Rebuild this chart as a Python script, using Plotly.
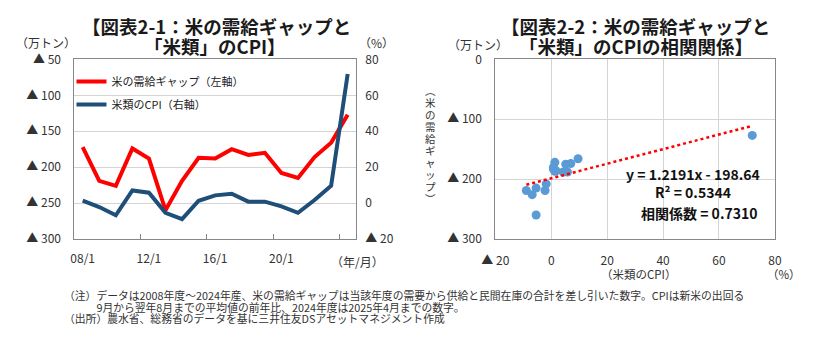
import plotly.graph_objects as go

# --- data -------------------------------------------------------------
years = list(range(2008, 2025))
supply_gap = [-172, -219, -226, -174, -188, -260, -219, -187, -188,
              -175, -183, -180, -208, -215, -186, -166, -127]          # 万トン
rice_cpi = [1.3, -2.2, -6.8, 7.0, 5.8, -5.4, -8.9, 1.3, 4.3,
            5.2, 0.8, 0.8, -1.8, -5.4, 1.7, 9.6, 71.9]                 # %

year_tick_vals = [2008, 2012, 2016, 2020]
year_tick_text = ["08/1", "12/1", "16/1", "20/1"]
year_minor_ticks = [2011.5, 2015.5, 2019.5, 2023.5]

gap_tick_vals = [-300, -250, -200, -150, -100, -50]
gap_tick_text = ["▲ 300", "▲ 250", "▲ 200", "▲ 150", "▲ 100", "▲ 50"]
cpi_tick_vals = [-20, 0, 20, 40, 60, 80]
cpi_tick_text = ["▲ 20", "0", "20", "40", "60", "80"]
scatter_gap_vals = [-300, -200, -100, 0]
scatter_gap_text = ["▲ 300", "▲ 200", "▲ 100", "0"]

slope = 1.2191
intercept = -198.64
r_squared = 0.5344
correlation = 0.7310

note_lines = [
    "（注）データは2008年度～2024年産、米の需給ギャップは当該年度の需要から供給と民間在庫の合計を差し引いた数字。CPIは新米の出回る",
    "　　　9月から翌年8月までの平均値の前年比、2024年度は2025年4月までの数字。",
    "（出所）農水省、総務省のデータを基に三井住友DSアセットマネジメント作成",
]

# --- styling ----------------------------------------------------------
W, H = 816, 341
FONT = "Noto Sans CJK JP"
TXT = "#333333"
AXIS_LINE = "#878787"
GRID = "#d4d4d4"
RED = "#ff0000"
NAVY = "#1f4e79"
DOT_BLUE = "#5b9bd5"
CLEAR = "rgba(0,0,0,0)"


def px_x(p):
    return p / W


def px_y(p):
    return 1 - p / H


left_dom = [px_x(62), px_x(351)]
right_dom = [px_x(494), px_x(781)]
plot_dom_y = [px_y(241), px_y(52)]

fig = go.Figure()

# left panel: time series
fig.add_trace(go.Scatter(
    x=years, y=supply_gap, mode="lines", name="米の需給ギャップ（左軸）",
    line=dict(color=RED, width=4), xaxis="x", yaxis="y", legendgroup="gap"))
fig.add_trace(go.Scatter(
    x=years, y=rice_cpi, mode="lines", name="米類のCPI（右軸）",
    line=dict(color=NAVY, width=4), xaxis="x", yaxis="y2", legendgroup="cpi"))
# carrier for the tick-mark overlay axis
fig.add_trace(go.Scatter(x=[], y=[], xaxis="x2", yaxis="y", showlegend=False))

# right panel: scatter with linear fit
fig.add_trace(go.Scatter(
    x=rice_cpi, y=supply_gap, mode="markers", showlegend=False,
    marker=dict(color=DOT_BLUE, size=9), xaxis="x3", yaxis="y3"))
fit_x = [min(rice_cpi), max(rice_cpi)]
fit_y = [slope * v + intercept for v in fit_x]
fig.add_trace(go.Scatter(
    x=fit_x, y=fit_y, mode="lines", showlegend=False,
    line=dict(color=RED, width=2.5, dash="dot"), xaxis="x3", yaxis="y3"))

tick_font = dict(family=FONT, size=12, color=TXT)

fig.update_layout(
    width=W, height=H, margin=dict(l=0, r=0, t=0, b=0),
    paper_bgcolor="white", plot_bgcolor="white",
    font=dict(family=FONT, color=TXT),
    xaxis=dict(domain=left_dom, range=[2007.5, 2024.5], anchor="y",
               tickvals=year_tick_vals, ticktext=year_tick_text,
               ticks="outside", ticklen=9, tickcolor=CLEAR,
               tickfont=tick_font, showgrid=False, zeroline=False,
               showline=True, mirror=True, linecolor=AXIS_LINE),
    xaxis2=dict(overlaying="x", range=[2007.5, 2024.5], anchor="y",
                tickvals=year_minor_ticks, ticks="inside", ticklen=5,
                tickcolor=AXIS_LINE, showticklabels=False, showgrid=False,
                zeroline=False, showline=False),
    yaxis=dict(domain=plot_dom_y, range=[-300, -50], anchor="x",
               tickvals=gap_tick_vals, ticktext=gap_tick_text,
               ticks="outside", ticklen=10, tickcolor=CLEAR,
               tickfont=tick_font, showgrid=True, gridcolor=GRID,
               zeroline=False, showline=True, mirror=True,
               linecolor=AXIS_LINE),
    yaxis2=dict(overlaying="y", side="right", range=[-20, 80], anchor="x",
                tickvals=cpi_tick_vals, ticktext=cpi_tick_text,
                ticks="outside", ticklen=6, tickcolor=CLEAR,
                tickfont=tick_font, showgrid=False, zeroline=False,
                showline=False),
    xaxis3=dict(domain=right_dom, range=[-20, 80], anchor="y3",
                tickvals=cpi_tick_vals, ticktext=cpi_tick_text,
                ticks="outside", ticklen=11, tickcolor=CLEAR,
                tickfont=tick_font, showgrid=True, gridcolor=GRID,
                zeroline=False, showline=True, mirror=True,
                linecolor=AXIS_LINE),
    yaxis3=dict(domain=plot_dom_y, range=[-300, 0], anchor="x3",
                tickvals=scatter_gap_vals, ticktext=scatter_gap_text,
                ticks="outside", ticklen=10, tickcolor=CLEAR,
                tickfont=tick_font, showgrid=True, gridcolor=GRID,
                zeroline=False, showline=True, mirror=True,
                linecolor=AXIS_LINE),
    legend=dict(x=px_x(59), y=px_y(60), xanchor="left", yanchor="top",
                bgcolor=CLEAR, font=dict(family=FONT, size=11,
                                         color="#222222"),
                tracegroupgap=4, itemwidth=30),
)


def label(text, x, y, size=13, bold=False, color=TXT, xanchor="center",
          align="center"):
    if bold:
        text = "<b>" + text + "</b>"
    fig.add_annotation(text=text, x=px_x(x), y=px_y(y), xref="paper",
                       yref="paper", showarrow=False, xanchor=xanchor,
                       yanchor="middle", align=align, borderpad=0,
                       font=dict(family=FONT, size=size, color=color))


def tight_lines(lines, glyph_px):
    # lines keep the (smaller) base spacing while glyphs use glyph_px
    return "<br>".join(
        f'<span style="font-size:{glyph_px}px">{s}</span>' for s in lines)


# titles
label("【図表2-1：米の需給ギャップと", 208, 17, size=18.5, bold=True, color="#1a1a1a")
label("「米類」のCPI】", 206, 38, size=18.5, bold=True, color="#1a1a1a")
label("【図表2-2：米の需給ギャップと", 638, 17, size=18.5, bold=True, color="#1a1a1a")
label("「米類」のCPIの相関関係】", 638, 38, size=18.5, bold=True, color="#1a1a1a")

# unit labels
label("（万トン）", 33, 34, size=12)
label("（%）", 372, 34, size=12)
label("（年/月）", 353, 265, size=12)
label("（万トン）", 476, 36, size=12)
label("（米類のCPI）", 641, 278, size=11.5)
label("（%）", 790, 278, size=11.5)
label(tight_lines(list("︵米の需給ギャップ︶"), 10.5), 428, 142, size=9.2)

# regression summary
label(f"y = {slope:.4f}x - {-intercept:.2f}", 697, 173, size=14, bold=True, color="#111111")
label(f"R² = {r_squared:.4f}", 697, 192, size=14, bold=True, color="#111111")
label(f"相関係数 = {correlation:.4f}", 703, 214, size=14, bold=True, color="#111111")

# notes
label(tight_lines(note_lines, 10.8), 50, 312, size=8.85,
      xanchor="left", align="left")

fig.write_html("out.html")
